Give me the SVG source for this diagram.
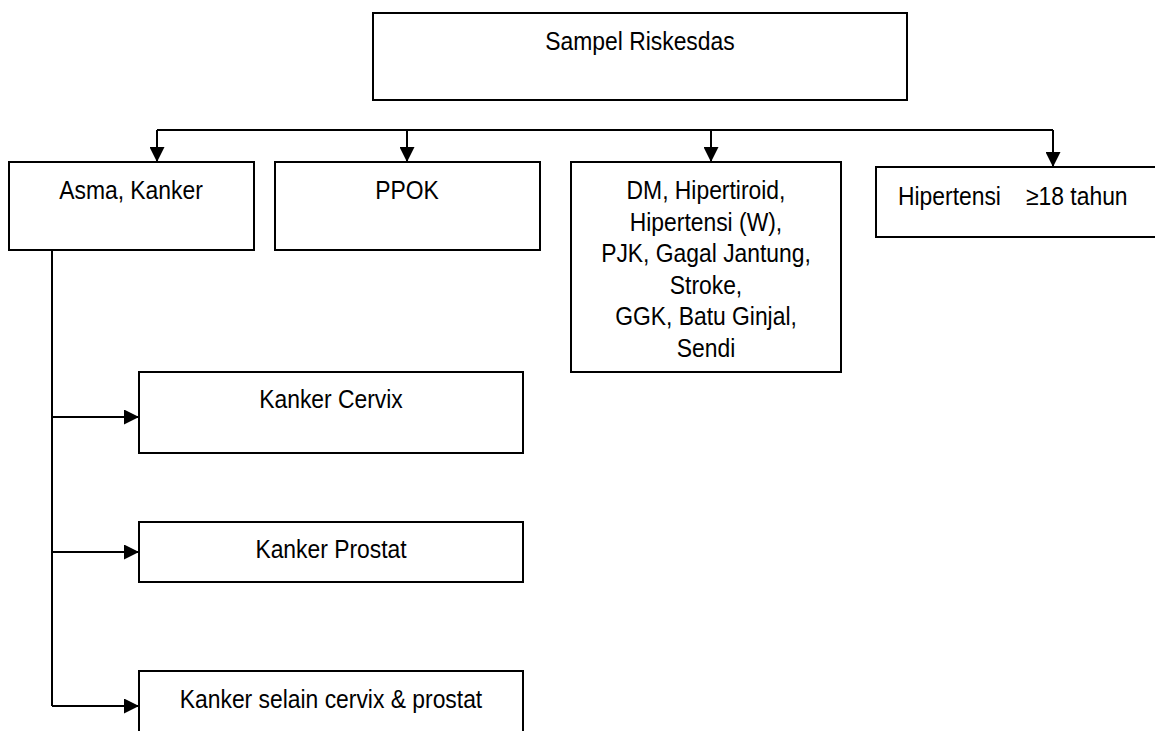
<svg xmlns="http://www.w3.org/2000/svg" width="1155" height="731" viewBox="0 0 1155 731">
<style>
.box{fill:#fff;stroke:#000;stroke-width:2}
.t{font-family:"Liberation Sans",Arial,sans-serif;font-size:26px;fill:#000}
.c{text-anchor:middle}
.ln{fill:none;stroke:#000;stroke-width:2}
</style>
<defs>
<marker id="ah" markerUnits="userSpaceOnUse" markerWidth="15" markerHeight="15" refX="15" refY="7.5" orient="auto">
<path d="M0,0 L15,7.5 L0,15 z" fill="#000"/>
</marker>
</defs>
<rect width="1155" height="731" fill="#fff"/>
<g id="n-sampel">
<rect class="box" x="373" y="13" width="534" height="87"/>
<text class="t c" transform="matrix(0.88,0,0,1,640,50)">Sampel Riskesdas</text>
</g>
<g id="n-asma">
<rect class="box" x="9" y="162" width="245" height="88"/>
<text class="t c" transform="matrix(0.88,0,0,1,131,199)">Asma, Kanker</text>
</g>
<g id="n-ppok">
<rect class="box" x="275" y="162" width="265" height="88"/>
<text class="t c" transform="matrix(0.88,0,0,1,407,199)">PPOK</text>
</g>
<g id="n-dm">
<rect class="box" x="571" y="162" width="270" height="210"/>
<text class="t c" transform="matrix(0.88,0,0,1,706,199)">DM, Hipertiroid,</text>
<text class="t c" transform="matrix(0.88,0,0,1,706,230.5)">Hipertensi (W),</text>
<text class="t c" transform="matrix(0.88,0,0,1,706,262)">PJK, Gagal Jantung,</text>
<text class="t c" transform="matrix(0.88,0,0,1,706,293.5)">Stroke,</text>
<text class="t c" transform="matrix(0.88,0,0,1,706,325)">GGK, Batu Ginjal,</text>
<text class="t c" transform="matrix(0.88,0,0,1,706,356.5)">Sendi</text>
</g>
<g id="n-hipertensi">
<rect class="box" x="876" y="167" width="360" height="70"/>
<text class="t" transform="matrix(0.88,0,0,1,898,205)"><tspan x="0">Hipertensi</tspan><tspan x="145.5">≥18 tahun</tspan></text>
</g>
<g id="n-cervix">
<rect class="box" x="139" y="372" width="384" height="81"/>
<text class="t c" transform="matrix(0.88,0,0,1,331,408)">Kanker Cervix</text>
</g>
<g id="n-prostat">
<rect class="box" x="139" y="522" width="384" height="60"/>
<text class="t c" transform="matrix(0.88,0,0,1,331,558)">Kanker Prostat</text>
</g>
<g id="n-selain">
<rect class="box" x="139" y="671" width="384" height="90"/>
<text class="t c" transform="matrix(0.88,0,0,1,331,708)">Kanker selain cervix &amp; prostat</text>
</g>
<g id="connectors">
<path class="ln" d="M157,130 H1053"/>
<path class="ln" d="M157,130 V162" marker-end="url(#ah)"/>
<path class="ln" d="M407,130 V162" marker-end="url(#ah)"/>
<path class="ln" d="M711,130 V162" marker-end="url(#ah)"/>
<path class="ln" d="M1053,130 V167" marker-end="url(#ah)"/>
<path class="ln" d="M52,250 V706"/>
<path class="ln" d="M52,417 H139" marker-end="url(#ah)"/>
<path class="ln" d="M52,552 H139" marker-end="url(#ah)"/>
<path class="ln" d="M52,706 H139" marker-end="url(#ah)"/>
</g>
</svg>
